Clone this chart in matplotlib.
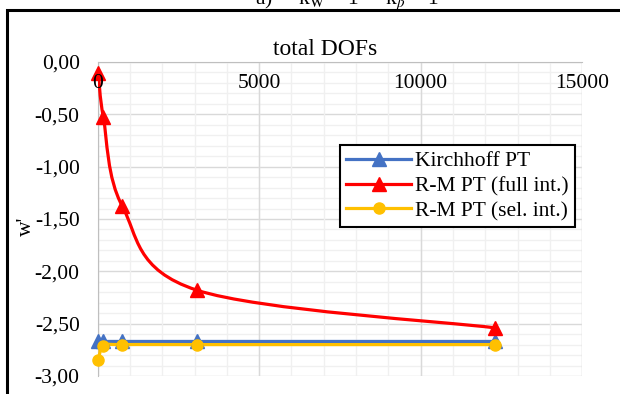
import numpy as np
import matplotlib
matplotlib.use("Agg")
import matplotlib.pyplot as plt
from matplotlib.path import Path
from matplotlib.patches import PathPatch, Rectangle
from matplotlib.lines import Line2D
from matplotlib.ticker import MultipleLocator, FuncFormatter

plt.rcParams["font.family"] = ["Liberation Serif", "DejaVu Serif"]
plt.rcParams["mathtext.fontset"] = "stix"

# values
dofs = [20, 175, 765, 3070, 12300]
kirchhoff = [-2.67, -2.67, -2.67, -2.67, -2.67]
rm_full = [-0.11, -0.53, -1.38, -2.18, -2.54]
rm_sel = [-2.85, -2.71, -2.70, -2.70, -2.70]

series = [
    ("Kirchhoff PT", kirchhoff, "#4472C4", "^", 10),
    ("R-M PT (full int.)", rm_full, "#FF0000", "^", 10),
    ("R-M PT (sel. int.)", rm_sel, "#FFC000", "o", 8),
]


def smooth_path(x, y):
    # Excel-like smoothed line: cubic Bezier through the points
    pts = np.column_stack([x, y]).astype(float)
    n = len(pts)
    verts = [pts[0]]
    codes = [Path.MOVETO]
    for i in range(n - 1):
        p0 = pts[i - 1] if i > 0 else pts[i]
        p1, p2 = pts[i], pts[i + 1]
        p3 = pts[i + 2] if i + 2 < n else pts[i + 1]
        verts += [p1 + (p2 - p0) / 6, p2 - (p3 - p1) / 6, p2]
        codes += [Path.CURVE4] * 3
    return Path(verts, codes)


fig = plt.figure(figsize=(6.2, 3.94), dpi=100)
ax = fig.add_axes([0.1576, 0.0457, 0.7814, 0.797])

fs = 15.5
handles = []
for name, vals, col, mk, ms in series:
    ax.add_patch(PathPatch(smooth_path(dofs, vals), fill=False, ec=col,
                           lw=2.3, capstyle="round", zorder=3))
    ax.plot(dofs, vals, ls="none", marker=mk, ms=ms, color=col,
            clip_on=False, zorder=4)
    handles.append(Line2D([], [], color=col, lw=2.3, marker=mk, ms=ms))

ax.set_xlim(0, 15000)
ax.set_ylim(-3, 0)
ax.xaxis.set_major_locator(MultipleLocator(5000))
ax.xaxis.set_minor_locator(MultipleLocator(1000))
ax.yaxis.set_major_locator(MultipleLocator(0.5))
ax.yaxis.set_minor_locator(MultipleLocator(0.1))
ax.yaxis.set_major_formatter(FuncFormatter(lambda v, p: f"{v:.2f}".replace(".", ",")))
ax.grid(axis="y", which="major", color="#d9d9d9", lw=1.0, zorder=0)
ax.grid(axis="y", which="minor", color="#f0f0f0", lw=1.0, zorder=0)
ax.set_axisbelow(True)

# vertical grid drawn as plain lines so the x tick labels can sit on top
xmin = ax.xaxis.get_minor_locator().tick_values(0, 15000)
xmaj = ax.xaxis.get_major_locator().tick_values(0, 15000)
ax.vlines(xmin, -3, 0, color="#f0f0f0", lw=1.0, zorder=0.6)
ax.vlines(xmaj, -3, 0, color="#d9d9d9", lw=1.0, zorder=0.7)
ax.xaxis.set_zorder(5)

for s in ["right", "bottom"]:
    ax.spines[s].set_visible(False)
ax.spines["left"].set_color("#bfbfbf")
ax.spines["top"].set_color("#bfbfbf")

ax.tick_params(which="both", length=0)
ax.tick_params(axis="x", labeltop=True, labelbottom=False, pad=-9, labelsize=fs)
for t in ax.xaxis.get_major_ticks():
    t.label2.set_va("top")
ax.tick_params(axis="y", pad=13, labelsize=fs)

ax.xaxis.set_label_position("top")
ax.set_xlabel("total DOFs", fontsize=17)
ax.xaxis.set_label_coords(0.469, 1.022)
ax.set_ylabel("w'", fontsize=fs)
ax.yaxis.set_label_coords(-0.127, 0.478)

leg = ax.legend(handles, [s[0] for s in series], loc="upper left",
                bbox_to_anchor=(0.5, 0.736), borderaxespad=0, fontsize=fs,
                frameon=True, fancybox=False, edgecolor="black", framealpha=1,
                handlelength=3.0, borderpad=0.3, labelspacing=0.22,
                handletextpad=0.2)
leg.get_frame().set_linewidth(1.5)
leg.set_zorder(6)

# outer frame and the cut-off caption above it
fig.patches.append(Rectangle((7 / 620, -0.1), 1.2, 1.1 - 10.5 / 394,
                             transform=fig.transFigure, fill=False,
                             ec="black", lw=2.2))
fig.text(255 / 620, 0.99, r"a)     k$_\mathrm{W}$ = 1     k$_\beta$ = 1",
         fontsize=fs, va="baseline", ha="left")

fig.savefig("out.png", dpi=100)
